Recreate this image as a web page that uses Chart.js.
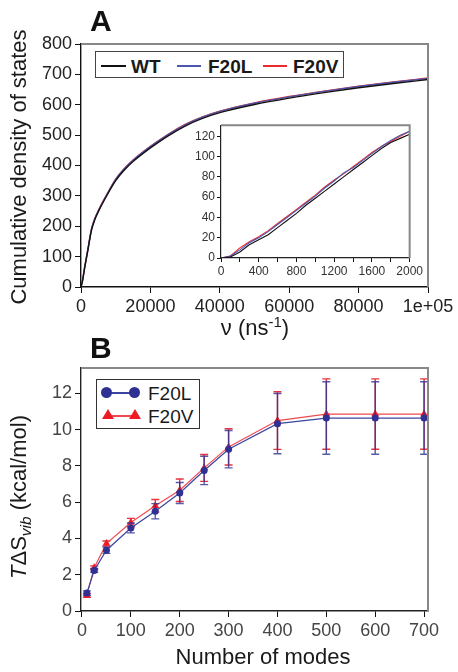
<!DOCTYPE html>
<html>
<head>
<meta charset="utf-8">
<script src="https://cdn.jsdelivr.net/npm/chart.js@4.4.0/dist/chart.umd.min.js"></script>
<style>
  body { margin: 0; background: #fff; font-family: "Liberation Sans", Arial, sans-serif; }
  #wrap { position: relative; width: 458px; height: 672px; overflow: hidden; }
  canvas { position: absolute; }
  .txt { position: absolute; white-space: nowrap; color: #1a1a1a; line-height: 1; }
  .panel { font-weight: bold; font-size: 30px; color: #111; }
  .title { font-size: 22px; }
  .rot { transform: translate(-50%, -50%) rotate(-90deg); }
  .legA { position: absolute; left: 95px; top: 51px; width: 247px; height: 25px; border: 1.5px solid #444; background: #fff; }
  .legB { position: absolute; left: 96px; top: 379px; width: 102px; height: 48px; border: 1.5px solid #333; background: #fff; }
  .ln { position: absolute; height: 1.5px; }
  .dot { position: absolute; width: 11px; height: 11px; border-radius: 50%; background: #2e3192; }
  .tri { position: absolute; width: 0; height: 0; border-left: 6px solid transparent; border-right: 6px solid transparent; border-bottom: 10px solid #ed1c24; }
  sup { font-size: 0.68em; vertical-align: 0.55em; }
  sub { font-size: 0.7em; vertical-align: -0.3em; }
</style>
</head>
<body>
<div id="wrap">
  <canvas id="chartA" width="458" height="340" style="left:0;top:0"></canvas>
  <canvas id="chartInset" width="240" height="170" style="left:185px;top:116px"></canvas>
  <canvas id="chartB" width="458" height="332" style="left:0;top:340px"></canvas>

  <div class="txt panel" style="left:90px;top:6px">A</div>
  <div class="txt panel" style="left:90px;top:333px">B</div>

  <div class="txt title rot" style="left:19px;top:167px">Cumulative density of states</div>
  <div class="txt title" style="left:255px;top:315px;transform:translateX(-50%)">ν (ns<sup>-1</sup>)</div>
  <div class="txt title rot" style="left:21px;top:497px"><i>T</i>ΔS<sub><i>vib</i></sub> (kcal/mol)</div>
  <div class="txt title" style="left:263px;top:646px;transform:translateX(-50%)">Number of modes</div>

  <div class="legA">
    <div class="ln" style="left:5px;top:13px;width:25px;background:#111"></div>
    <div class="txt" style="left:35px;top:5px;font-weight:bold;font-size:19px">WT</div>
    <div class="ln" style="left:81px;top:13px;width:24px;background:#4a56b0"></div>
    <div class="txt" style="left:112px;top:5px;font-weight:bold;font-size:19px">F20L</div>
    <div class="ln" style="left:167px;top:13px;width:24px;background:#ee2a2a"></div>
    <div class="txt" style="left:197px;top:5px;font-weight:bold;font-size:19px">F20V</div>
  </div>

  <div class="legB">
    <div class="ln" style="left:10px;top:12px;width:28px;background:#3d45a0"></div>
    <div class="dot" style="left:4px;top:7px"></div>
    <div class="dot" style="left:32px;top:7px"></div>
    <div class="txt" style="left:51px;top:4px;font-size:19px">F20L</div>
    <div class="ln" style="left:11px;top:35px;width:27px;background:#f04a50"></div>
    <div class="tri" style="left:5px;top:29px"></div>
    <div class="tri" style="left:32px;top:29px"></div>
    <div class="txt" style="left:51px;top:27px;font-size:19px">F20V</div>
  </div>
</div>

<script>
// Panel A: cumulative density of states
const freqA = [0, 500, 1000, 2000, 3000, 4000, 5000, 7500, 10000, 12500, 15000, 20000, 25000, 30000, 35000, 40000, 50000, 60000, 70000, 80000, 90000, 100000];
const wtA   = [0, 23, 59, 122, 186, 222, 248, 302, 350, 385, 413, 458, 497, 530, 555, 574, 601, 622, 640, 656, 670, 683];
const f20lA = [0, 26, 61, 125, 189, 225, 251, 305, 354, 389, 417, 462, 501, 534, 559, 578, 605, 626, 644, 660, 674, 687];
const f20vA = [0, 27, 62, 125, 190, 226, 252, 306, 355, 390, 418, 463, 502, 535, 560, 579, 606, 627, 645, 661, 675, 688];
const xTicksA = [0, 20000, 40000, 60000, 80000, 100000];
const yTicksA = [0, 100, 200, 300, 400, 500, 600, 700, 800];

// Inset: low-frequency range
const freqIn = [0, 100, 200, 300, 400, 500, 600, 700, 800, 900, 1000, 1100, 1200, 1300, 1400, 1500, 1600, 1700, 1800, 1900, 2000];
const wtIn   = [0, 1, 6, 13, 18, 23, 30, 37, 44, 52, 59, 66, 73, 80, 87, 94, 101, 108, 114, 118, 122];
const f20lIn = [0, 2, 8, 15, 20, 26, 33, 40, 47, 54, 61, 69, 76, 84, 89, 96, 103, 110, 116, 121, 125];
const f20vIn = [0, 2, 10, 16, 21, 27, 34, 41, 48, 55, 62, 70, 77, 83, 90, 97, 104, 110, 115, 120, 125];
const xTicksIn = [0, 200, 400, 600, 800, 1000, 1200, 1400, 1600, 1800, 2000];
const yTicksIn = [0, 20, 40, 60, 80, 100, 120];

// Panel B: T dS_vib vs number of modes
const modes    = [10, 25, 50, 100, 150, 200, 250, 300, 400, 500, 600, 700];
const f20lB    = [0.99, 2.24, 3.35, 4.58, 5.50, 6.51, 7.75, 8.92, 10.33, 10.64, 10.64, 10.64];
const f20lErr  = [0.12, 0.10, 0.17, 0.27, 0.42, 0.58, 0.78, 1.03, 1.66, 2.00, 2.00, 2.00];
const f20vB    = [0.86, 2.39, 3.72, 4.88, 5.80, 6.66, 7.89, 9.05, 10.50, 10.86, 10.86, 10.86];
const f20vErr  = [0.10, 0.10, 0.14, 0.23, 0.35, 0.62, 0.74, 1.00, 1.59, 1.94, 1.94, 1.94];
const xTicksB = [0, 100, 200, 300, 400, 500, 600, 700];
const yTicksB = [0, 2, 4, 6, 8, 10, 12];

const pts = (xs, ys) => xs.map((x, i) => ({ x: x, y: ys[i] }));
const setTicks = values => scale => { scale.ticks = values.map(v => ({ value: v })); };

// gray top/right edges of the plot box
const frame = {
    id: 'frame',
    afterDraw(chart, args, opts) {
        const a = chart.chartArea;
        const ctx = chart.ctx;
        ctx.save();
        ctx.strokeStyle = opts.color;
        ctx.lineWidth = opts.width;
        ctx.beginPath();
        ctx.moveTo(a.left, a.top);
        ctx.lineTo(a.right, a.top);
        ctx.lineTo(a.right, a.bottom);
        ctx.stroke();
        ctx.restore();
    }
};

// vertical error bars, drawn just under each dataset
const errorBars = {
    id: 'errorBars',
    beforeDatasetDraw(chart, args) {
        const ds = chart.data.datasets[args.index];
        if (!ds.errors) return;
        const ctx = chart.ctx;
        const xs = chart.scales.x, ys = chart.scales.y;
        ctx.save();
        ctx.strokeStyle = ds.errorColor;
        ctx.lineWidth = 1.4;
        ds.data.forEach((p, i) => {
            const x = xs.getPixelForValue(p.x);
            const yt = ys.getPixelForValue(p.y + ds.errors[i]);
            const yb = ys.getPixelForValue(p.y - ds.errors[i]);
            ctx.beginPath();
            ctx.moveTo(x, yt); ctx.lineTo(x, yb);
            ctx.moveTo(x - 4, yt); ctx.lineTo(x + 4, yt);
            ctx.moveTo(x - 4, yb); ctx.lineTo(x + 4, yb);
            ctx.stroke();
        });
        ctx.restore();
    }
};

const axisGrid = len => ({ drawOnChartArea: false, drawTicks: true, tickLength: len, color: '#111' });
const mainFont = { family: 'Liberation Sans', size: 18 };
const smallFont = { family: 'Liberation Sans', size: 12 };

// Graph A
new Chart(document.getElementById('chartA').getContext('2d'), {
    type: 'line',
    data: {
        datasets: [
            { label: 'WT', data: pts(freqA, wtA), borderColor: '#111', borderWidth: 1.4 },
            { label: 'F20L', data: pts(freqA, f20lA), borderColor: '#4a56b0', borderWidth: 1.4 },
            { label: 'F20V', data: pts(freqA, f20vA), borderColor: '#ee2a2a', borderWidth: 1.4 }
        ]
    },
    options: {
        responsive: false,
        animation: false,
        layout: { padding: { top: 44, right: 30, left: 0, bottom: 0 } },
        elements: { point: { radius: 0 }, line: { cubicInterpolationMode: 'monotone' } },
        plugins: { legend: { display: false }, tooltip: { enabled: false }, frame: { color: '#888', width: 2 } },
        scales: {
            x: {
                type: 'linear', min: 0, max: 100000,
                afterBuildTicks: setTicks(xTicksA),
                ticks: { autoSkip: false, maxRotation: 0, color: '#222', font: mainFont, padding: 3,
                         callback: v => v === 100000 ? '1e+05' : String(v) },
                grid: axisGrid(6),
                border: { color: '#111', width: 1.4 },
                afterFit: s => { s.height = 53; }
            },
            y: {
                min: 0, max: 800,
                afterBuildTicks: setTicks(yTicksA),
                ticks: { autoSkip: false, color: '#222', font: mainFont, padding: 3, callback: v => String(v) },
                grid: axisGrid(6),
                border: { color: '#111', width: 1.4 },
                afterFit: s => { s.width = 81; }
            }
        }
    },
    plugins: [frame]
});

// Inset
new Chart(document.getElementById('chartInset').getContext('2d'), {
    type: 'line',
    data: {
        datasets: [
            { label: 'WT', data: pts(freqIn, wtIn), borderColor: '#111', borderWidth: 1.1 },
            { label: 'F20L', data: pts(freqIn, f20lIn), borderColor: '#4a56b0', borderWidth: 1.1 },
            { label: 'F20V', data: pts(freqIn, f20vIn), borderColor: '#ee2a2a', borderWidth: 1.1 }
        ]
    },
    options: {
        responsive: false,
        animation: false,
        layout: { padding: { top: 8, right: 13, left: 0, bottom: 0 } },
        elements: { point: { radius: 0 }, line: { tension: 0 } },
        plugins: { legend: { display: false }, tooltip: { enabled: false }, frame: { color: '#888', width: 2 } },
        scales: {
            x: {
                type: 'linear', min: 0, max: 2000,
                afterBuildTicks: setTicks(xTicksIn),
                ticks: { autoSkip: false, maxRotation: 0, color: '#333', font: smallFont, padding: 2,
                         callback: v => v % 400 === 0 ? String(v) : '' },
                grid: axisGrid(4),
                border: { color: '#222', width: 1.2 },
                afterFit: s => { s.height = 28; }
            },
            y: {
                min: 0, max: 131,
                afterBuildTicks: setTicks(yTicksIn),
                ticks: { autoSkip: false, color: '#333', font: smallFont, padding: 2, callback: v => String(v) },
                grid: axisGrid(4),
                border: { color: '#222', width: 1.2 },
                afterFit: s => { s.width = 36; }
            }
        }
    },
    plugins: [frame]
});

// Graph B
new Chart(document.getElementById('chartB').getContext('2d'), {
    type: 'line',
    data: {
        datasets: [
            { label: 'F20L', data: pts(modes, f20lB), errors: f20lErr, errorColor: 'rgba(46, 49, 146, 0.8)',
              borderColor: '#3d45a0', backgroundColor: '#2e3192', borderWidth: 1.2,
              pointStyle: 'circle', pointRadius: 3.5, pointBorderWidth: 0 },
            { label: 'F20V', data: pts(modes, f20vB), errors: f20vErr, errorColor: 'rgba(226, 30, 45, 0.9)',
              borderColor: '#f04a50', backgroundColor: '#ed1c24', borderWidth: 1.2,
              pointStyle: 'triangle', pointRadius: 4.5, pointBorderWidth: 0 }
        ]
    },
    options: {
        responsive: false,
        animation: false,
        layout: { padding: { top: 28, right: 30, left: 0, bottom: 0 } },
        elements: { line: { tension: 0 } },
        plugins: { legend: { display: false }, tooltip: { enabled: false }, frame: { color: '#888', width: 2 } },
        scales: {
            x: {
                type: 'linear', min: -2, max: 708,
                afterBuildTicks: setTicks(xTicksB),
                ticks: { autoSkip: false, maxRotation: 0, color: '#444', font: mainFont, padding: 3, callback: v => String(v) },
                grid: axisGrid(6),
                border: { color: '#222', width: 1.4 },
                afterFit: s => { s.height = 61; }
            },
            y: {
                min: 0, max: 13.4,
                afterBuildTicks: setTicks(yTicksB),
                ticks: { autoSkip: false, color: '#444', font: mainFont, padding: 3, callback: v => String(v) },
                grid: axisGrid(6),
                border: { color: '#222', width: 1.4 },
                afterFit: s => { s.width = 81; }
            }
        }
    },
    plugins: [frame, errorBars]
});
</script>
</body>
</html>
